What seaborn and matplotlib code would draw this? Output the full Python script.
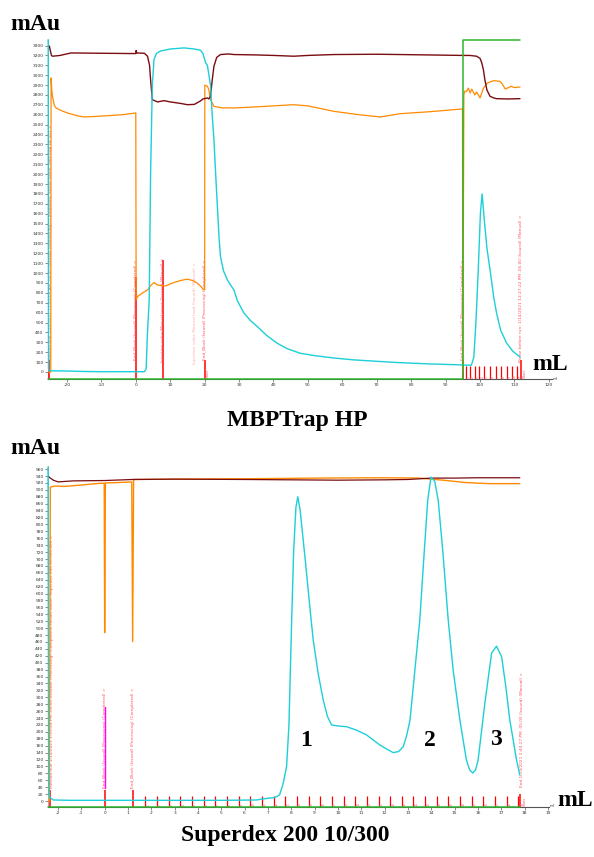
import numpy as np
import pandas as pd
import matplotlib
matplotlib.use("Agg")
import matplotlib.pyplot as plt
import seaborn as sns

sns.set_theme(style="white")
plt.rcParams['font.family'] = ['DejaVu Sans']

# ---------------- Top chart (MBPTrap HP) data ----------------
top_uv_x = [-25.45, -25.35, -25.0, -20, -15, -10, 0, 2.5, 3.0, 3.4, 3.9, 4.3, 4.8, 5.3, 6.0, 7.2, 10, 14, 17,
            18.8, 19.5, 20.3, 20.8, 21.7, 22.2, 22.7, 23.2, 23.7, 24.2, 24.6, 25.5, 26.6, 27.5, 28.5, 29.5,
            31.4, 33.3, 35.3, 38, 41.1, 44, 47.8, 52, 57.4, 63, 70, 76.8, 85, 95, 96.5, 97.5, 98.2, 98.8,
            99.5, 100.1, 100.6, 101.2, 102, 102.9, 104, 104.8, 106, 107.7, 109.5, 111.6]
top_uv_y = [3360, 20, 12, 10, 5, 3, 3, 3, 30, 400, 730, 2000, 2900, 3160, 3220, 3245, 3265, 3276, 3265,
            3252, 3220, 3125, 3100, 2900, 2600, 2350, 2000, 1673, 1350, 1167, 1020, 931, 880, 830, 720,
            597, 520, 459, 370, 290, 235, 189, 165, 142, 123, 108, 94, 82, 71, 68, 70, 150, 500,
            1050, 1600, 1800, 1550, 1250, 1032, 750, 596, 420, 293, 210, 152]

top_pres_x = [-25.4, -24.7, -24.6, -24.4, -24.2, -23.7, -23.2, -21.5, -19.8, -17, -15, -12, -8.2, -4, -0.2,
              0.0, 0.1, 0.5, 2, 3.4, 4.5, 5.3, 6.3, 7, 8.7, 10, 11.1, 13, 15, 16.5, 17.9, 19, 19.8, 20.0,
              20.05, 20.8, 21.2, 21.7, 22.7, 25, 28.5, 35, 40, 45.9, 50, 57.5, 65, 71, 76.8, 85, 94.9,
              95.0, 95.3, 95.6, 96.1, 96.6, 97.1, 97.6, 98.5, 99, 100, 101, 102.1, 102.9, 104, 105.8,
              106.5, 107.3, 108.3, 109, 110, 111.6]
top_pres_y = [0, 0, 2973, 2850, 2787, 2700, 2669, 2640, 2618, 2590, 2578, 2583, 2591, 2600, 2618,
              2618, 729, 762, 800, 830, 880, 904, 880, 875, 870, 890, 904, 925, 938, 925, 898, 860, 830, 830,
              2900, 2888, 2855, 2753, 2685, 2670, 2669, 2680, 2690, 2702, 2690, 2635, 2600, 2578, 2611, 2630, 2659,
              0, 2800, 2840, 2837, 2870, 2820, 2860, 2800, 2830, 2770, 2870, 2920, 2932, 2945, 2938,
              2910, 2861, 2875, 2888, 2875, 2881]

top_cond_x = [-25.4, -25.1, -24.5, -24.2, -22, -18.8, -10, -1, 0, 0.1, 0.3, 2.5, 3.4, 4.0, 4.3, 4.8, 6.3,
              8.2, 10, 13, 15, 17, 18.8, 19.5, 20.8, 21.2, 21.7, 22.2, 22.7, 23.5, 24.6, 27, 28.5, 35, 40,
              45.9, 50, 57.5, 70, 76.8, 85, 95, 97, 99, 100, 100.5, 101, 101.4, 102, 102.9, 104, 104.8,
              108, 111.6]
top_cond_y = [3300, 3293, 3200, 3192, 3200, 3225, 3222, 3219, 3219, 3250, 3225, 3222, 3192, 3100, 2955,
              2753, 2730, 2743, 2730, 2715, 2702, 2705, 2740, 2760, 2770, 2760, 2787, 2950, 3090, 3180,
              3209, 3215, 3209, 3205, 3200, 3192, 3200, 3209, 3212, 3209, 3205, 3200, 3200, 3192, 3170,
              3125, 3050, 2955, 2850, 2787, 2770, 2763, 2760, 2763]

top_concb_x = [-25.4, 95.0, 95.0, 111.7]
top_concb_y = [0, 0, 100, 100]

top_event_x = [-25.3, 0.0, 8.0, 17.2, 20.0, 95.0, 112.0]
top_event_top = [120, 960, 1130, 0, 120, 120, 120]
top_event_text = [
    "Method Run 1/14/2021 11:42:09 AM -05:00 (Issued) (Processing) (Completed) Result name: MBPTrap HP 001 >",
    "End_Block (Issued) (Processing) (Completed) >",
    "Injection valve Manual inject (Issued) (Manual) >",
    "Injection valve Manual load (Issued) (Manual) >",
    "End_Block (Issued) (Processing) (Completed) >",
    "End_Block (Issued) (Processing) (Completed) >",
    "Pause before run: 1/14/2021 12:27:22 PM -05:00 (Issued) (Manual) >",
]
top_event_text_y = [120, 120, 100, 80, 120, 120, 100]
top_frac_x = [95.9, 97.1, 98.4, 99.8, 101.2, 102.9, 104.5, 106.1, 107.7, 109.3, 110.8]
top_frac_labels = ["1", "2", "3", "4", "5", "6", "7", "8", "9", "10", "11"]

top_xticks = [-20, -10, 0, 10, 20, 30, 40, 50, 60, 70, 80, 90, 100, 110, 120]
top_yticks = list(range(0, 3301, 100))

# ---------------- Bottom chart (Superdex 200 10/300) data ----------------
bot_uv_x = [-2.43, -2.40, -2.35, -2.2, -1.5, 0, 3, 5, 6.5, 7.0, 7.3, 7.5, 7.65, 7.8, 7.9, 8.0, 8.1, 8.2,
            8.28, 8.38, 8.6, 8.81, 8.94, 9.15, 9.37, 9.55, 9.73, 10.0, 10.37, 10.8, 11.23, 11.8, 12.1,
            12.37, 12.6, 12.8, 12.95, 13.09, 13.3, 13.51, 13.7, 13.85, 13.99, 14.15, 14.3, 14.5, 14.73,
            14.94, 15.23, 15.51, 15.65, 15.78, 15.9, 16.01, 16.3, 16.59, 16.8, 17.02, 17.2, 17.37,
            17.66, 17.8]
bot_uv_y = [966, 30, 10, 3, 2, 2, 2, 2, 3, 8, 10, 18, 50, 100, 220, 480, 720, 850,
            880, 841, 697, 552, 466, 370, 292, 245, 220, 217, 215, 205, 191, 162, 150,
            140, 143, 157, 190, 234, 379, 523, 720, 870, 937, 925, 870, 720, 523,
            379, 234, 118, 90, 81, 90, 118, 283, 428, 448, 417, 330, 234,
            118, 75]

bot_pres_x = [-2.43, -2.37, -2.33, -2.13, -1.7, -1.0, -0.2, -0.02, 0.0, 0.03, 0.5, 1.16, 1.2, 1.24, 3,
              6, 9, 12, 13.5, 14.5, 15.5, 16.5, 17.8]
bot_pres_y = [0, 0, 908, 911, 910, 914, 919, 919, 487, 920, 921, 923, 461, 930, 931,
              932, 934, 935, 934, 928, 921, 918, 918]

bot_cond_x = [-2.43, -2.35, -2.2, -2.0, -1.35, 0, 1.2, 3, 6, 8, 10, 12, 13, 14, 15, 16, 17, 17.8]
bot_cond_y = [940, 935, 928, 923, 926, 927, 930, 931, 930, 929, 928, 929, 930, 934, 934, 935, 935, 935]

bot_concb_x = [-2.43, 17.8]
bot_concb_y = [0, 0]

bot_inject_x = [0.0, 0.0]
bot_inject_y = [38, 273]

bot_event_x = [-2.35, 0.0, 1.2, 17.8]
bot_event_top = [32, 32, 32, 20]
bot_event_text = [
    "Method Run 1/14/2021 1:53:24 PM -05:00 (Issued) (Processing) (Completed) Result name: Superdex 200 10/300 001 >",
    "End_Block (Issued) (Processing) (Completed) >",
    "End_Block (Issued) (Processing) (Completed) >",
    "End 1/14/2021 2:40:27 PM -05:00 (Issued) (Manual) >",
]
bot_event_text_y = [38, 38, 38, 40]
bot_frac_x = [1.74, 2.24, 2.74, 3.24, 3.74, 4.24, 4.74, 5.24, 5.74, 6.24, 6.74, 7.24, 7.74, 8.24, 8.74,
              9.24, 9.74, 10.24, 10.74, 11.24, 11.74, 12.24, 12.74, 13.24, 13.74, 14.24, 14.74, 15.24,
              15.74, 16.24, 16.74, 17.24, 17.74]
bot_frac_labels = [str(i) for i in range(1, 34)]

bot_xticks = list(range(-2, 20))
bot_yticks = list(range(0, 961, 20))

peak_labels = ["1", "2", "3"]
peak_x = [8.62, 13.96, 16.78]
peak_y = [176, 176, 178]

# ---------------- colours ----------------
C_UV = "#1ccfd8"
C_PRES = "#ff8a00"
C_COND = "#7a0c12"
C_CONC = "#2fb52f"
C_EVT = "#ff0000"
C_EVT_TXT = "#ff5060"
C_INJ = "#ff00ff"

fig = plt.figure(figsize=(5.94, 8.57), dpi=100)
ax1 = fig.add_axes([48 / 594, 1 - 379 / 857, (552 - 48) / 594, (379 - 40) / 857])
ax2 = fig.add_axes([48 / 594, 1 - 807 / 857, (549 - 48) / 594, (807 - 466) / 857])


def line(ax, xs, ys, color, lw, z=2, clip=True):
    df = pd.DataFrame({"x": xs, "y": ys})
    sns.lineplot(data=df, x="x", y="y", ax=ax, color=color, lw=lw, sort=False,
                 estimator=None, legend=False, zorder=z, clip_on=clip)
    ax.set_xlabel("")
    ax.set_ylabel("")


def style(ax, xlim, ylim, xticks, yticks):
    ax.set_xlim(*xlim)
    ax.set_ylim(*ylim)
    ax.set_xticks(xticks)
    ax.set_yticks(yticks)
    ax.set_xticklabels([str(t) for t in xticks])
    ax.set_yticklabels([str(t) for t in yticks])
    ax.tick_params(axis="both", labelsize=3.2, length=2, width=0.4, pad=1.2,
                   colors="#333333", bottom=True, left=True)
    for s in ["top", "right"]:
        ax.spines[s].set_visible(False)
    ax.spines["left"].set_color("#888888")
    ax.spines["left"].set_linewidth(0.5)
    ax.spines["bottom"].set_color("#555555")
    ax.spines["bottom"].set_linewidth(0.8)
    ax.set_xlabel("")
    ax.set_ylabel("")
    ax.grid(False)


# ---- top ----
style(ax1, (-25.5, 120.9), (-71, 3356), top_xticks, top_yticks)
for x, t, s, ty in zip(top_event_x, top_event_top, top_event_text, top_event_text_y):
    if t > 0:
        ax1.vlines(x, -71, t, color=C_EVT, lw=1.1, zorder=3)
    col = "#ffaaaa" if x == 17.2 else C_EVT_TXT
    ha = "left" if x < -20 else "center"
    ax1.text(x, ty, s, rotation=90, ha=ha, va="bottom", fontsize=3.1, color=col, zorder=4)
ax1.vlines(top_frac_x, -71, 60, color=C_EVT, lw=0.9, zorder=3)
for x, lab in zip(top_frac_x, top_frac_labels):
    ax1.text(x + 0.3, -60, lab, rotation=90, ha="left", va="bottom", fontsize=2.2, color=C_EVT_TXT)
ax1.text(20.4, -65, "Waste", rotation=90, ha="left", va="bottom", fontsize=2.2, color=C_EVT_TXT)
ax1.text(112.4, -65, "Waste", rotation=90, ha="left", va="bottom", fontsize=2.2, color=C_EVT_TXT)

line(ax1, top_pres_x, top_pres_y, C_PRES, 0.9, z=5)
line(ax1, top_cond_x, top_cond_y, C_COND, 1.0, z=6)
line(ax1, top_uv_x, top_uv_y, C_UV, 1.0, z=7, clip=False)
ax1g = ax1.twinx()
ax1g.set_ylim(0, 100)
line(ax1g, top_concb_x, top_concb_y, C_CONC, 1.1, z=8, clip=False)
ax1g.axis("off")

# ---- bottom ----
style(ax2, (-2.43, 19.05), (-17.3, 969), bot_xticks, bot_yticks)
ax2.set_xticks([t / 5 for t in range(-12, 96)], minor=True)
ax2.tick_params(axis="x", which="minor", length=1, width=0.3, bottom=True, colors="#555555")
for x, t, s, ty in zip(bot_event_x, bot_event_top, bot_event_text, bot_event_text_y):
    ax2.vlines(x, -17.3, t, color=C_EVT, lw=1.1, zorder=3)
    ha = "left" if (x < -2 or x > 17) else "center"
    ax2.text(x, ty, s, rotation=90, ha=ha, va="bottom", fontsize=3.1, color=C_EVT_TXT, zorder=4)
ax2.vlines(bot_frac_x, -17.3, 14, color=C_EVT, lw=0.9, zorder=3)
for x, lab in zip(bot_frac_x, bot_frac_labels):
    ax2.text(x + 0.05, -15, lab, rotation=90, ha="left", va="bottom", fontsize=2.2, color=C_EVT_TXT)
ax2.text(17.95, -15, "Waste", rotation=90, ha="left", va="bottom", fontsize=2.2, color=C_EVT_TXT)

line(ax2, bot_inject_x, bot_inject_y, C_INJ, 1.0, z=5)
line(ax2, bot_pres_x, bot_pres_y, C_PRES, 1.0, z=5)
line(ax2, bot_cond_x, bot_cond_y, C_COND, 0.9, z=6)
line(ax2, bot_uv_x, bot_uv_y, C_UV, 1.0, z=7, clip=False)
ax2g = ax2.twinx()
ax2g.set_ylim(0, 100)
line(ax2g, bot_concb_x, bot_concb_y, C_CONC, 1.1, z=8, clip=False)
ax2g.axis("off")

for lab, x, y in zip(peak_labels, peak_x, peak_y):
    ax2.text(x, y, lab, ha="center", va="center", fontsize=17, fontweight="bold",
             family="Liberation Serif", color="black")

# ---- annotation text ----
serif = dict(family="Liberation Serif", fontweight="bold", color="black")
fig.text(10 / 594, 1 - 24 / 857, "mAu", ha="left", va="center", fontsize=17, **serif)
fig.text(10 / 594, 1 - 449 / 857, "mAu", ha="left", va="center", fontsize=17, **serif)
fig.text(550 / 594, 1 - 365 / 857, "mL", ha="center", va="center", fontsize=17, **serif)
fig.text(575 / 594, 1 - 801 / 857, "mL", ha="center", va="center", fontsize=17, **serif)
fig.text(297 / 594, 1 - 421 / 857, "MBPTrap HP", ha="center", va="center", fontsize=17, **serif)
fig.text(285 / 594, 1 - 836 / 857, "Superdex 200 10/300", ha="center", va="center", fontsize=17, **serif)
fig.text(553 / 594, 1 - 379 / 857, "ml", ha="left", va="center", fontsize=3, color="#333333")
fig.text(550 / 594, 1 - 806 / 857, "ml", ha="left", va="center", fontsize=3, color="#333333")

fig.savefig("out.png", dpi=100, facecolor="white")
